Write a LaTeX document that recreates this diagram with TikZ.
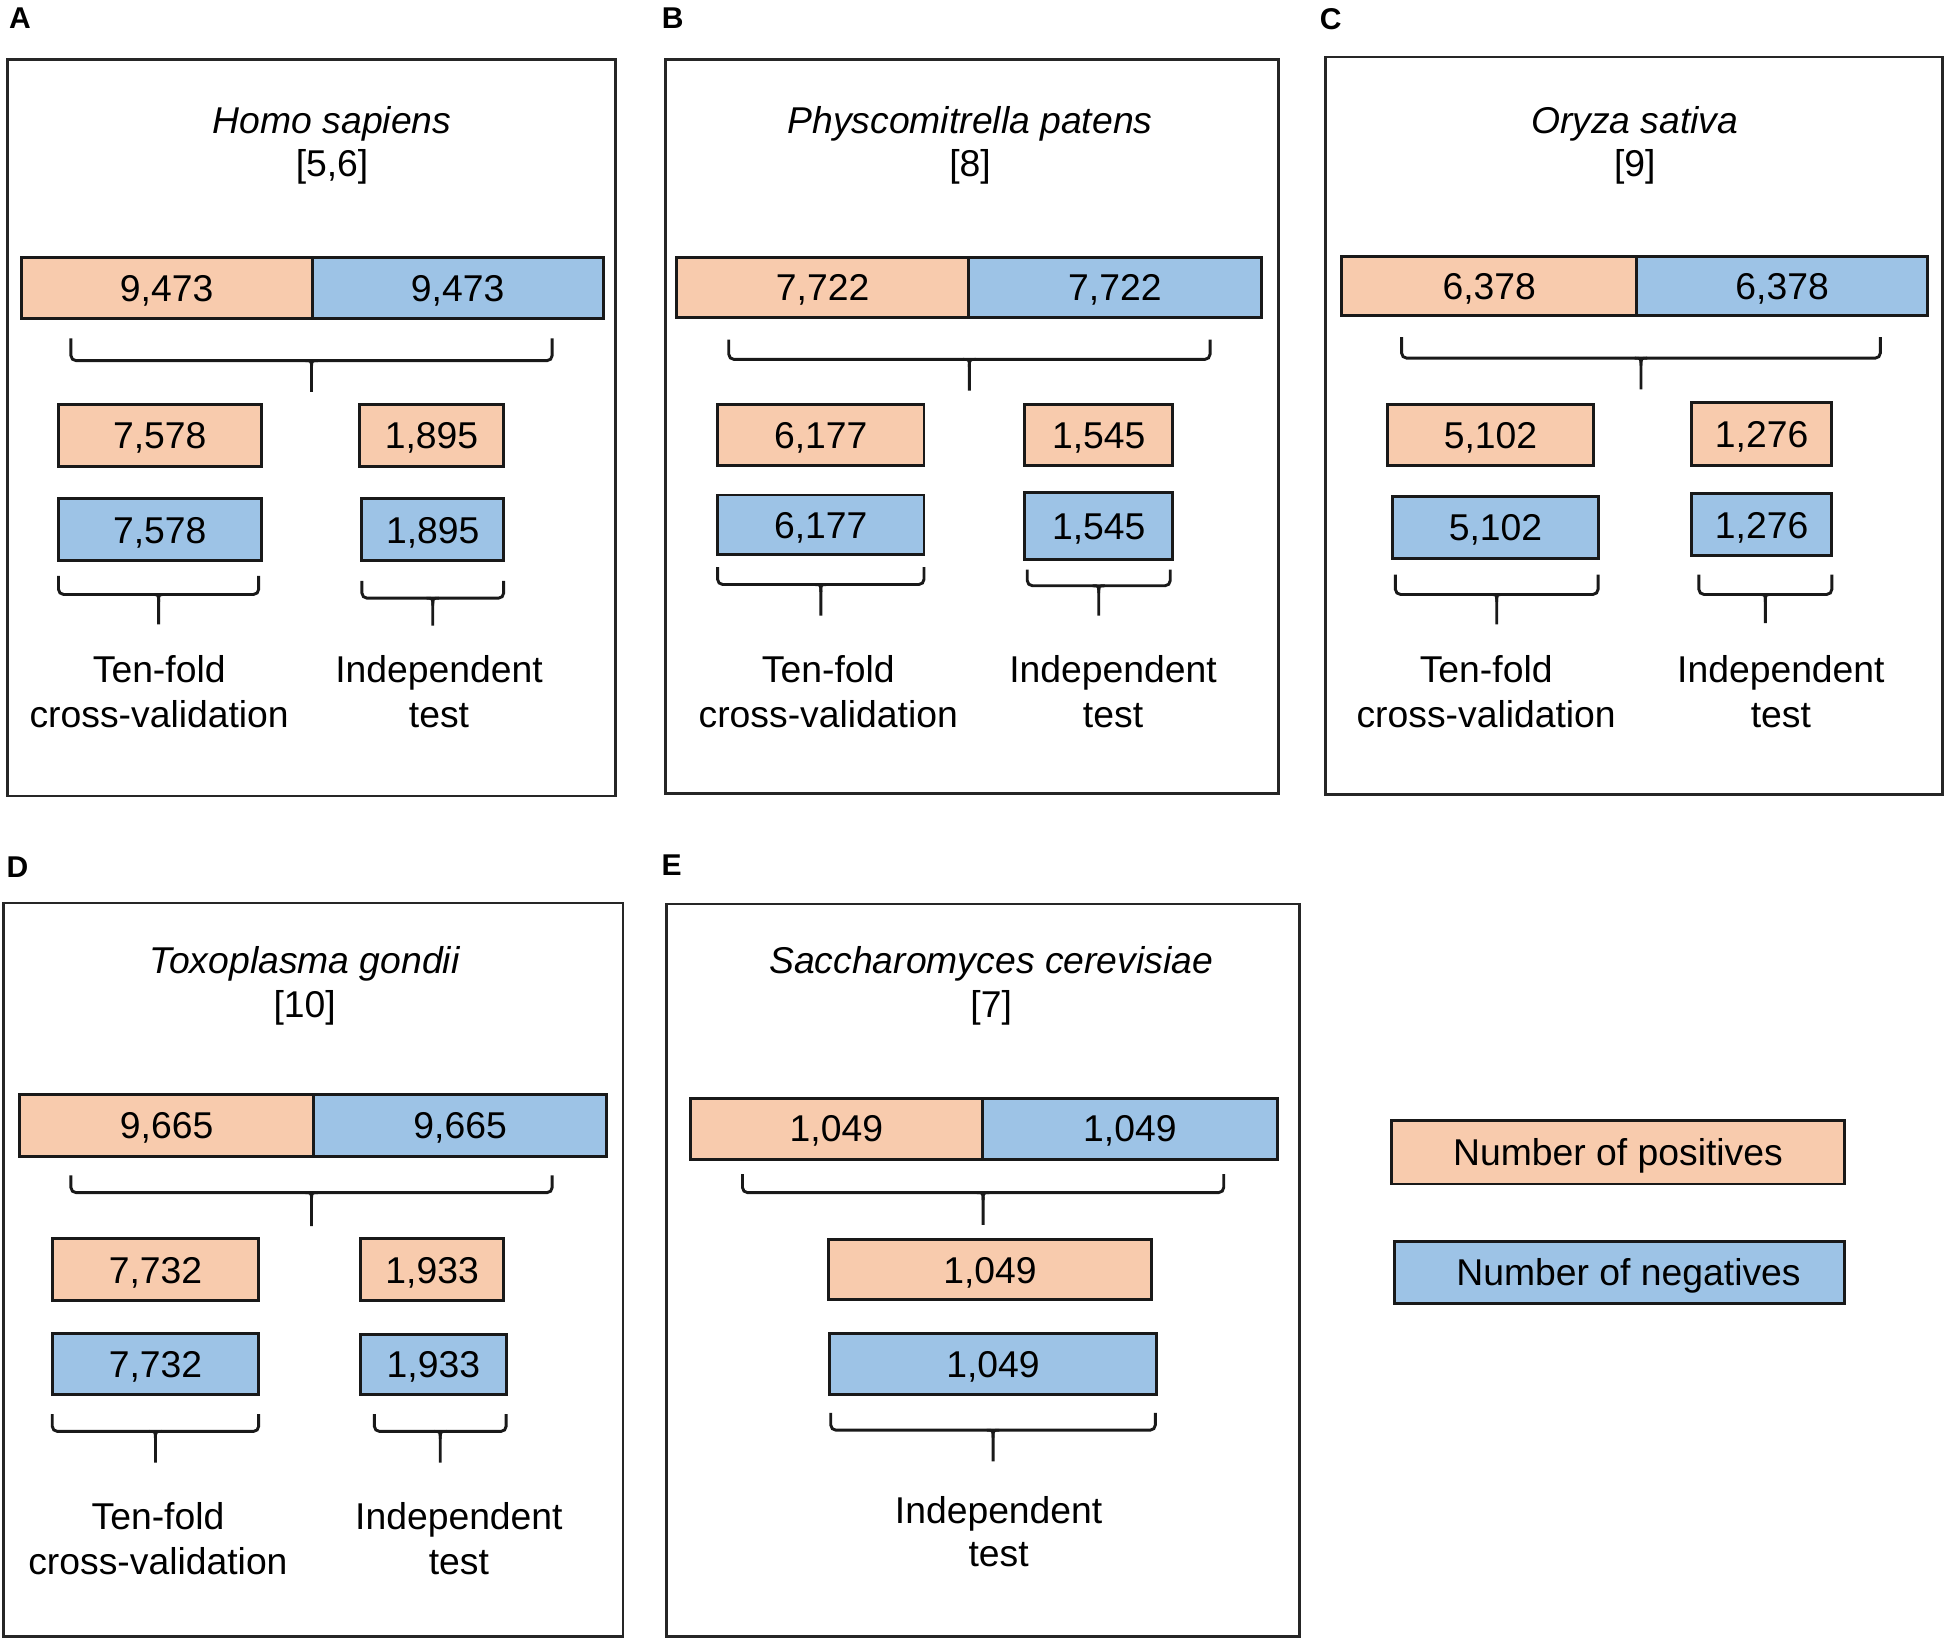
\documentclass[tikz,border=0pt]{standalone}
\usepackage{fontspec}
\setmainfont{Liberation Sans}
\definecolor{posfill}{HTML}{F8CBAD}
\definecolor{negfill}{HTML}{9DC3E6}
\tikzset{
  panelbox/.style={draw=black!85, line width=1.2pt},
  cellbox/.style={draw=black!90, line width=1.4pt, inner sep=0pt, text height=12.9pt, text depth=0pt, font=\fontsize{18}{21.6}\selectfont},
  posbox/.style={cellbox, fill=posfill},
  negbox/.style={cellbox, fill=negfill},
  bracestyle/.style={draw=black!90, line width=1.4pt},
  txt/.style={anchor=base, inner sep=0pt, font=\fontsize{18}{21.6}\selectfont},
  ttl/.style={txt, font=\fontsize{18}{21.6}\selectfont\itshape},
  plabel/.style={inner sep=0pt, font=\fontsize{14.5}{17}\selectfont\bfseries}
}
% name, x1, y1, x2, y2, style, text
\newcommand\cbox[7]{\node[#6, minimum width={(#4-#2)*0.6pt}, minimum height={(#5-#3)*0.6pt}] (#1) at ({(#2+#4)/2},{(#3+#5)/2}) {#7};}
% left, right, top, horizontal, stem bottom
\newcommand\brc[5]{%
  \draw[bracestyle, rounded corners=2.5pt] (#1,#3) -- (#1,#4) -- (#2,#4) -- (#2,#3);
  \draw[bracestyle] ({(#1+#2)/2-5},#4) .. controls ({(#1+#2)/2},#4) .. ({(#1+#2)/2},{#4+6}) -- ({(#1+#2)/2},#5);
  \draw[bracestyle] ({(#1+#2)/2+5},#4) .. controls ({(#1+#2)/2},#4) .. ({(#1+#2)/2},{#4+6});
}
\begin{document}
\begin{tikzpicture}[x=0.6pt, y=-0.6pt]
\useasboundingbox (0,0) rectangle (1568,1321);

% ---------------- Panel A ----------------
\node[plabel] (labA) at (16,15) {A};
\draw[panelbox] (6,48) rectangle (495,640);
\node[ttl] (tA1) at (267,107) {Homo sapiens};
\node[txt] (tA2) at (267,142) {[5,6]};
\cbox{aP}{17}{207}{251}{256}{posbox}{9,473}
\cbox{aN}{251}{207}{485}{256}{negbox}{9,473}
\brc{57}{444}{272}{290}{315}
\cbox{aP1}{47}{325}{210}{375}{posbox}{7,578}
\cbox{aP2}{289}{325}{405}{375}{posbox}{1,895}
\cbox{aN1}{47}{401}{210}{451}{negbox}{7,578}
\cbox{aN2}{291}{401}{405}{451}{negbox}{1,895}
\brc{47}{208}{463}{478}{502}
\brc{291}{405}{467}{481}{503}
\node[txt] (aT1) at (128,549) {Ten-fold};
\node[txt] (aT2) at (128,585) {cross-validation};
\node[txt] (aI1) at (353,549) {Independent};
\node[txt] (aI2) at (353,585) {test};

% ---------------- Panel B ----------------
\node[plabel] (labB) at (541,15) {B};
\draw[panelbox] (535,48) rectangle (1028,638);
\node[ttl] (tB1) at (780,107) {Physcomitrella patens};
\node[txt] (tB2) at (780,142) {[8]};
\cbox{bP}{544}{207}{779}{255}{posbox}{7,722}
\cbox{bN}{779}{207}{1014}{255}{negbox}{7,722}
\brc{586}{973}{273}{289}{314}
\cbox{bP1}{577}{325}{743}{374}{posbox}{6,177}
\cbox{bP2}{824}{325}{943}{374}{posbox}{1,545}
\cbox{bN1}{577}{398}{743}{446}{negbox}{6,177}
\cbox{bN2}{824}{396}{943}{450}{negbox}{1,545}
\brc{577}{743}{456}{470}{495}
\brc{826}{941}{458}{471}{495}
\node[txt] (bT1) at (666,549) {Ten-fold};
\node[txt] (bT2) at (666,585) {cross-validation};
\node[txt] (bI1) at (895,549) {Independent};
\node[txt] (bI2) at (895,585) {test};

% ---------------- Panel C ----------------
\node[plabel] (labC) at (1070,15) {C};
\draw[panelbox] (1066,46) rectangle (1562,639);
\node[ttl] (tC1) at (1314.5,107) {Oryza sativa};
\node[txt] (tC2) at (1314.5,142) {[9]};
\cbox{cP}{1079}{206}{1316}{254}{posbox}{6,378}
\cbox{cN}{1316}{206}{1550}{254}{negbox}{6,378}
\brc{1127}{1512}{271}{288}{313}
\cbox{cP1}{1116}{325}{1281}{374}{posbox}{5,102}
\cbox{cP2}{1360}{324}{1473}{374}{posbox}{1,276}
\cbox{cN1}{1120}{399}{1285}{449}{negbox}{5,102}
\cbox{cN2}{1360}{397}{1473}{447}{negbox}{1,276}
\brc{1122}{1285}{462}{478}{502}
\brc{1366}{1473}{462}{478}{501}
\node[txt] (cT1) at (1195,549) {Ten-fold};
\node[txt] (cT2) at (1195,585) {cross-validation};
\node[txt] (cI1) at (1432,549) {Independent};
\node[txt] (cI2) at (1432,585) {test};

% ---------------- Panel D ----------------
\node[plabel] (labD) at (14,697) {D};
\draw[panelbox] (3,726) rectangle (501,1316);
\node[ttl] (tD1) at (245,783) {Toxoplasma gondii};
\node[txt] (tD2) at (245,818) {[10]};
\cbox{dP}{16}{880}{252}{930}{posbox}{9,665}
\cbox{dN}{252}{880}{488}{930}{negbox}{9,665}
\brc{57}{444}{945}{959}{986}
\cbox{dP1}{42}{996}{208}{1046}{posbox}{7,732}
\cbox{dP2}{290}{996}{405}{1046}{posbox}{1,933}
\cbox{dN1}{42}{1072}{208}{1121}{negbox}{7,732}
\cbox{dN2}{290}{1073}{407}{1121}{negbox}{1,933}
\brc{42}{208}{1137}{1151}{1176}
\brc{301}{407}{1137}{1151}{1176}
\node[txt] (dT1) at (127,1230) {Ten-fold};
\node[txt] (dT2) at (127,1266) {cross-validation};
\node[txt] (dI1) at (369,1230) {Independent};
\node[txt] (dI2) at (369,1266) {test};

% ---------------- Panel E ----------------
\node[plabel] (labE) at (540,696) {E};
\draw[panelbox] (536,727) rectangle (1045,1316);
\node[ttl] (tE1) at (797,783) {Saccharomyces cerevisiae};
\node[txt] (tE2) at (797,818) {[7]};
\cbox{eP}{555}{883}{790}{932}{posbox}{1,049}
\cbox{eN}{790}{883}{1027}{932}{negbox}{1,049}
\brc{597}{984}{944}{959}{985}
\cbox{eP1}{666}{997}{926}{1045}{posbox}{1,049}
\cbox{eN1}{667}{1072}{930}{1121}{negbox}{1,049}
\brc{668}{929}{1136}{1150}{1175}
\node[txt] (eI1) at (803,1225) {Independent};
\node[txt] (eI2) at (803,1260) {test};

% ---------------- Legend ----------------
\cbox{legP}{1119}{901}{1483}{952}{posbox}{Number of positives}
\cbox{legN}{1121}{998}{1483}{1048}{negbox}{\hspace*{9pt}Number of negatives}
\end{tikzpicture}
\end{document}
